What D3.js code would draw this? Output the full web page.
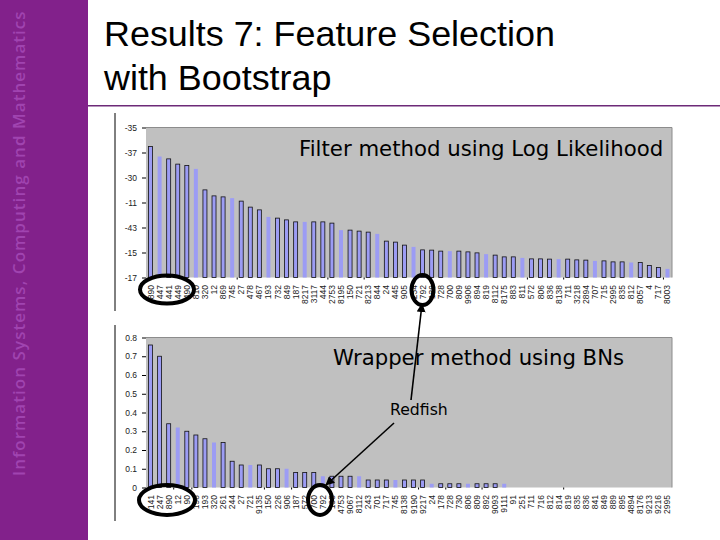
<!DOCTYPE html>
<html>
<head>
<meta charset="utf-8">
<script src="https://cdn.jsdelivr.net/npm/d3@7"></script>
<style>
  html, body { margin: 0; padding: 0; background: #fff; }
  svg { display: block; }
</style>
</head>
<body>
<div id="chart"></div>
<script>
// top chart: log likelihood of each feature
var topLabels = ['890','447','441','449','490','810','320','12','869','745','27','478','467','193','732','849','187','8217',
  '3117','444','2753','8195','150','721','8213','844','24','445','905','234','792','139','728','700','809','9906','894','819','8112',
  '8175','883','811','572','806','836','8138','711','3218','2894','707','715','2995','835','812','8057','4','717','8003'];
var topValues = [-36.52,-37.32,-37.51,-37.93,-38.04,-38.31,-39.99,-40.47,-40.55,-40.65,-40.89,-41.37,-41.59,-42.15,-42.25,-42.39,-42.55,-42.55,
  -42.55,-42.55,-42.65,-43.21,-43.21,-43.29,-43.37,-43.51,-44.09,-44.17,-44.41,-44.55,-44.79,-44.81,-44.89,-44.89,-44.89,-44.95,-45.03,-45.13,-45.21,
  -45.35,-45.35,-45.43,-45.51,-45.51,-45.53,-45.53,-45.53,-45.59,-45.61,-45.67,-45.67,-45.75,-45.75,-45.8,-45.8,-46.04,-46.2,-46.31];
var topTicks = [-47,-45,-43,-41,-39,-37,-35];
var topTickLabels = ['-17','-15','-43','-11','-30','-37','-35'];
var topMarks = [10,20,24,42,46,57];

// bottom chart: selection frequency with the wrapper
var botLabels = ['141','247','890','12','90','198','193','320','261','244','27','721','9135','150','226','906','187','572',
  '700','792','193','4753','9067','8112','243','701','717','745','8138','9190','9217','24','178','728','730','806','809','892','9093',
  '9111','91','251','711','716','812','814','819','835','836','841','849','889','895','4894','8176','9213','9216','2995'];
var botValues = [0.76,0.70,0.34,0.32,0.30,0.28,0.26,0.24,0.24,0.14,0.12,0.12,0.12,0.10,0.10,0.10,0.08,0.08,
  0.08,0.06,0.06,0.06,0.06,0.06,0.04,0.04,0.04,0.04,0.04,0.04,0.04,0.02,0.02,0.02,0.02,0.02,0.02,0.02,0.02,
  0.02,0,0,0,0,0,0,0,0,0,0,0,0,0,0,0,0,0,0];
var botTicks = [0,0.1,0.2,0.3,0.4,0.5,0.6,0.7,0.8];
var botTickLabels = ['0','0.1','0.2','0.3','0.4','0.5','0.6','0.7','0.8'];
var botMarks = [3,5,13,16,30,33,37,46];

var width = 720;
var height = 540;
var BAR_BLUE = '#9c9cf4';

var svg = d3.select('#chart').append('svg')
  .attr('width', width)
  .attr('height', height);

// slide furniture
svg.append('rect').attr('width', 88).attr('height', height).attr('fill', '#82218b');
svg.append('rect').attr('x', 88).attr('y', 105).attr('width', 632).attr('height', 1.5).attr('fill', '#6d2a78');
svg.append('text')
  .attr('transform', 'translate(25,476) rotate(-90)')
  .attr('font-family', 'Open Sans, DejaVu Sans, sans-serif')
  .attr('font-size', 17)
  .attr('font-weight', 600)
  .attr('letter-spacing', 1.05)
  .attr('fill', '#a044b0')
  .text('Information Systems, Computing and Mathematics');

svg.selectAll('.title')
  .data(['Results 7: Feature Selection', 'with Bootstrap'])
  .enter()
  .append('text')
  .attr('class', 'title')
  .attr('x', 104)
  .attr('y', function(d, i) { return 46 + i * 44; })
  .attr('font-family', 'Liberation Sans, Arial, sans-serif')
  .attr('font-size', 35.9)
  .attr('fill', '#000')
  .text(function(d) { return d; });

// thin rule left of each picture
svg.selectAll('.rule')
  .data([[113, 311], [325, 521]])
  .enter()
  .append('line')
  .attr('class', 'rule')
  .attr('x1', 115).attr('x2', 115)
  .attr('y1', function(d) { return d[0]; })
  .attr('y2', function(d) { return d[1]; })
  .attr('stroke', '#000');

function drawBars(opts) {
  var x = d3.scaleBand()
    .domain(d3.range(opts.labels.length))
    .range([146, 672])
    .paddingInner(0.56)
    .paddingOuter(0.28);
  var xIndex = d3.scaleLinear().domain([0, opts.labels.length]).range([146, 672]);
  var y = d3.scaleLinear().domain(opts.domain).range([opts.bottom, opts.top]);

  var g = svg.append('g');

  g.append('rect')
    .attr('x', 146)
    .attr('y', opts.top)
    .attr('width', 526)
    .attr('height', opts.bottom - opts.top)
    .attr('fill', '#c0c0c0');

  g.append('path')
    .attr('d', 'M146,' + opts.top + 'H672V' + opts.bottom)
    .attr('fill', 'none')
    .attr('stroke', '#8c8c8c');

  // the shrunken screenshot loses the outline of about every fourth bar
  g.selectAll('.bar')
    .data(opts.values)
    .enter()
    .append('rect')
    .attr('class', 'bar')
    .attr('x', function(d, i) { return x(i); })
    .attr('y', function(d) { return y(d); })
    .attr('width', x.bandwidth())
    .attr('height', function(d) { return opts.bottom - y(d); })
    .attr('fill', BAR_BLUE)
    .attr('stroke', function(d, i) {
      if (d === opts.domain[0]) return 'none';
      return i % 4 === opts.plainPhase ? 'none' : '#111';
    })
    .attr('stroke-width', 0.8);

  var yAxis = d3.axisLeft(y)
    .tickValues(opts.ticks)
    .tickSize(4)
    .tickPadding(5)
    .tickFormat(function(d, i) { return opts.tickLabels[i]; });
  var yG = g.append('g').attr('transform', 'translate(146,0)').call(yAxis);
  yG.select('.domain').remove();
  yG.selectAll('text').attr('font-family', 'Liberation Sans, Arial, sans-serif').attr('font-size', 8.5).attr('fill', '#222');

  var xAxis = d3.axisBottom(x)
    .tickSize(0)
    .tickFormat(function(d) { return opts.labels[d]; });
  var xG = g.append('g').attr('transform', 'translate(0,' + (opts.bottom + 1) + ')').call(xAxis);
  xG.select('.domain').remove();
  xG.selectAll('text')
    .attr('transform', 'rotate(-90)')
    .attr('text-anchor', 'end')
    .attr('dx', -6.5)
    .attr('dy', 3)
    .attr('x', 0)
    .attr('y', 0)
    .attr('font-family', 'Liberation Sans, Arial, sans-serif')
    .attr('font-size', 8.5)
    .attr('fill', '#222');

  var marks = d3.axisBottom(xIndex).tickValues(opts.marks).tickSize(2).tickFormat('');
  var mG = g.append('g').attr('transform', 'translate(0,' + opts.bottom + ')').call(marks);
  mG.select('.domain').remove();
}

drawBars({
  labels: topLabels, values: topValues, domain: [-47, -35],
  ticks: topTicks, tickLabels: topTickLabels, marks: topMarks,
  top: 127.5, bottom: 277.5, plainPhase: 1
});
drawBars({
  labels: botLabels, values: botValues, domain: [0, 0.8],
  ticks: botTicks, tickLabels: botTickLabels, marks: botMarks,
  top: 337.5, bottom: 487.5, plainPhase: 3
});

// annotations on top of the charts
var notes = [
  { text: 'Filter method using Log Likelihood', x: 299, y: 156, size: 21.25 },
  { text: 'Wrapper method using BNs', x: 333, y: 364.5, size: 21.2 },
  { text: 'Redfish', x: 390, y: 415, size: 15.7 }
];
svg.selectAll('.note')
  .data(notes)
  .enter()
  .append('text')
  .attr('class', 'note')
  .attr('x', function(d) { return d.x; })
  .attr('y', function(d) { return d.y; })
  .attr('font-family', 'DejaVu Sans, sans-serif')
  .attr('font-size', function(d) { return d.size; })
  .attr('fill', '#000')
  .text(function(d) { return d.text; });

var ovals = [
  { cx: 167, cy: 289.5, rx: 27, ry: 14 },
  { cx: 422.5, cy: 290, rx: 11, ry: 15 },
  { cx: 167, cy: 500, rx: 28, ry: 15 },
  { cx: 320, cy: 500, rx: 12, ry: 15 }
];
svg.selectAll('.oval')
  .data(ovals)
  .enter()
  .append('ellipse')
  .attr('class', 'oval')
  .attr('cx', function(d) { return d.cx; })
  .attr('cy', function(d) { return d.cy; })
  .attr('rx', function(d) { return d.rx; })
  .attr('ry', function(d) { return d.ry; })
  .attr('fill', 'none')
  .attr('stroke', '#000')
  .attr('stroke-width', 4);

svg.append('defs').append('marker')
  .attr('id', 'head')
  .attr('viewBox', '0 0 10 10')
  .attr('refX', 9).attr('refY', 5)
  .attr('markerWidth', 9).attr('markerHeight', 9)
  .attr('markerUnits', 'userSpaceOnUse')
  .attr('orient', 'auto')
  .append('path').attr('d', 'M0,0L10,5L0,10Z').attr('fill', '#000');

var arrows = [
  { x1: 411, y1: 400, x2: 422, y2: 304 },
  { x1: 394, y1: 423, x2: 326, y2: 485 }
];
svg.selectAll('.arrow')
  .data(arrows)
  .enter()
  .append('line')
  .attr('class', 'arrow')
  .attr('x1', function(d) { return d.x1; })
  .attr('y1', function(d) { return d.y1; })
  .attr('x2', function(d) { return d.x2; })
  .attr('y2', function(d) { return d.y2; })
  .attr('stroke', '#000')
  .attr('stroke-width', 1.6)
  .attr('marker-end', 'url(#head)');
</script>
</body>
</html>
